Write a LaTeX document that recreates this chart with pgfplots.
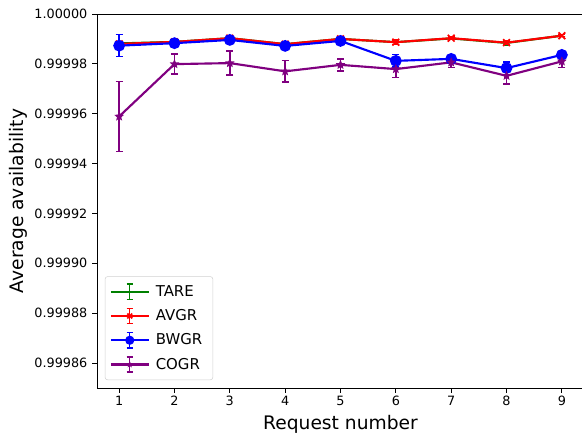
\documentclass[border=0pt]{standalone}
\usepackage{fontspec}
\setmainfont{DejaVu Sans}
\usepackage{pgfplots}
\pgfplotsset{compat=1.18}
\usepackage{pgfplotstable}

\definecolor{mgreen}{RGB}{0,128,0}
\definecolor{mpurple}{RGB}{128,0,128}

% filled five-pointed star marker (matplotlib '*')
\pgfdeclareplotmark{fstar}{%
  \pgfpathmoveto{\pgfpointpolar{90}{\pgfplotmarksize}}%
  \pgfpathlineto{\pgfpointpolar{126}{0.45\pgfplotmarksize}}%
  \pgfpathlineto{\pgfpointpolar{162}{\pgfplotmarksize}}%
  \pgfpathlineto{\pgfpointpolar{198}{0.45\pgfplotmarksize}}%
  \pgfpathlineto{\pgfpointpolar{234}{\pgfplotmarksize}}%
  \pgfpathlineto{\pgfpointpolar{270}{0.45\pgfplotmarksize}}%
  \pgfpathlineto{\pgfpointpolar{306}{\pgfplotmarksize}}%
  \pgfpathlineto{\pgfpointpolar{342}{0.45\pgfplotmarksize}}%
  \pgfpathlineto{\pgfpointpolar{18}{\pgfplotmarksize}}%
  \pgfpathlineto{\pgfpointpolar{54}{0.45\pgfplotmarksize}}%
  \pgfpathclose
  \pgfusepathqfill
}

% y values are (average availability - 0.9999) x 10^6,
% e.g. 88.0 means 0.9999880; err is the half-length of the error bar in the same unit
\pgfplotstableread{
x  y     err
1  88.2  0.7
2  88.8  0.6
3  90.3  1.0
4  87.9  0.6
5  90.0  0.5
6  88.7  0.9
7  90.2  0.4
8  88.4  0.8
9  91.3  0.4
}\tare
\pgfplotstableread{
x  y     err
1  88.0  0.7
2  88.8  0.6
3  90.3  1.0
4  87.9  0.6
5  90.0  0.5
6  88.7  0.9
7  90.3  0.4
8  88.5  0.8
9  91.3  0.4
}\avgr
\pgfplotstableread{
x  y     err
1  87.3  4.4
2  88.3  1.2
3  89.6  1.5
4  87.2  1.2
5  89.2  0.8
6  81.2  2.5
7  82.0  1.0
8  78.3  2.5
9  83.6  1.2
}\bwgr
\pgfplotstableread{
x  y     err
1  58.9  14.0
2  79.9  4.0
3  80.3  4.8
4  77.0  4.3
5  79.6  2.4
6  77.9  3.3
7  80.6  2.0
8  75.2  3.2
9  81.0  2.4
}\cogr

\begin{document}
\begin{tikzpicture}
\useasboundingbox (-72.75pt,-37.5pt) rectangle (363.75pt,291pt);
\begin{axis}[
  at={(0pt,0pt)}, anchor=south west,
  scale only axis,
  width=365.25pt, height=280.5pt,
  xmin=0.6, xmax=9.4,
  ymin=-50, ymax=100,
  xtick={1,2,...,9},
  xticklabels={1,2,3,4,5,6,7,8,9},
  ytick={-40,-20,0,20,40,60,80,100},
  yticklabels={0.99986,0.99988,0.99990,0.99992,0.99994,0.99996,0.99998,1.00000},
  tick align=outside,
  xtick pos=bottom, ytick pos=left,
  major tick length=3.7pt,
  tick style={black, line width=0.6pt},
  axis line style={line width=0.6pt},
  ticklabel style={font=\fontsize{9.6pt}{11pt}\selectfont},
  xticklabel style={yshift=1pt},
  label style={font=\fontsize{14pt}{16pt}\selectfont},
  xlabel={Request number},
  ylabel={Average availability},
  xlabel style={at={(axis description cs:0.5,-0.096)}, anchor=center},
  ylabel style={at={(axis description cs:-0.162,0.5)}, anchor=center},
  legend cell align=left,
  legend style={
    at={(axis description cs:0.016,0.021)}, anchor=south west,
    draw=black!18, rounded corners=2pt, fill=white,
    font=\fontsize{11.2pt}{13pt}\selectfont,
    row sep=4.4pt, inner xsep=3.5pt, inner ysep=4.6pt,
    nodes={inner xsep=4.5pt},
  },
  legend image code/.code={%
    \draw[#1, mark=none] (0cm,0cm) -- (1.0cm,0cm);
    \draw[#1, mark=none, solid, line width=1.1pt] (0.5cm,-0.2cm) -- (0.5cm,0.2cm)
      (0.42cm,0.2cm) -- (0.58cm,0.2cm) (0.42cm,-0.2cm) -- (0.58cm,-0.2cm);
    \draw[#1, only marks, mark size=2.6pt] plot coordinates {(0.5cm,0cm)};
  },
  every axis plot/.append style={line width=1.6pt},
  error bars/y dir=both, error bars/y explicit,
  error bars/error bar style={line width=1.1pt},
  error bars/error mark options={rotate=90, mark size=2.6pt, line width=1.1pt},
]
\addplot[mgreen, mark=none] table[x=x, y=y, y error=err] {\tare};
\addlegendentry{TARE}
\addplot[red, mark=x, mark size=3.6pt, mark options={line width=1.3pt}] table[x=x, y=y, y error=err] {\avgr};
\addlegendentry{AVGR}
\addplot[blue, mark=*, mark size=3.6pt] table[x=x, y=y, y error=err] {\bwgr};
\addlegendentry{BWGR}
\addplot[mpurple, mark=fstar, mark size=3.8pt] table[x=x, y=y, y error=err] {\cogr};
\addlegendentry{COGR}
\end{axis}
\end{tikzpicture}
\end{document}
